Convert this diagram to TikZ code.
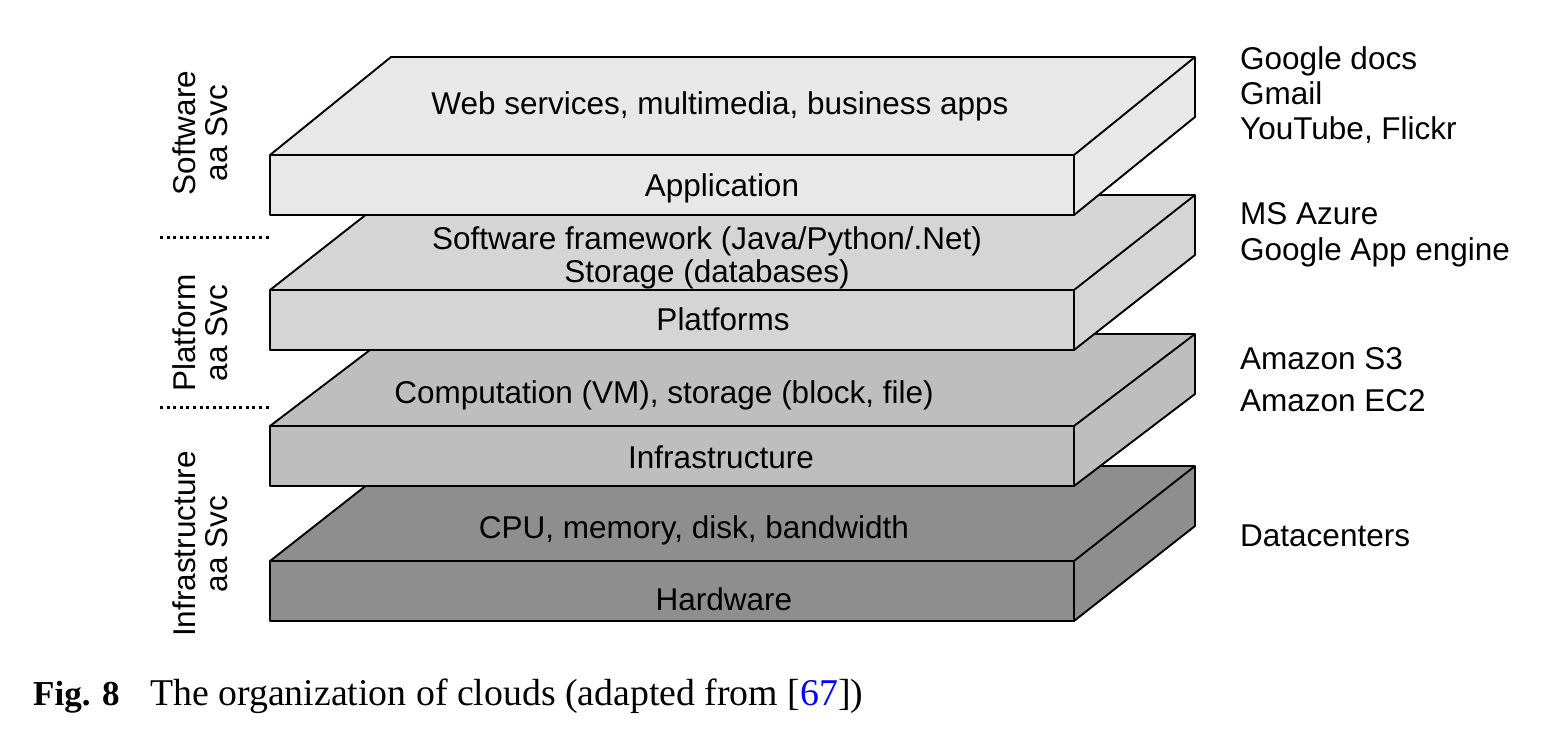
\documentclass[tikz,border=0pt]{standalone}
\usepackage{fontspec}
\setmainfont{Liberation Sans}
\newfontfamily\capfont{Liberation Serif}
\begin{document}
\begin{tikzpicture}[x=1pt,y=-1pt,
  slabline/.style={draw=black,line width=1.9pt,line join=round},
  lbl/.style={font=\fontsize{31.5}{36}\selectfont,inner sep=0pt,anchor=base},
  rlbl/.style={font=\fontsize{31.5}{36}\selectfont,inner sep=0pt,anchor=base west},
  side/.style={font=\fontsize{31.5}{32}\selectfont,inner sep=0pt,rotate=90,align=center},
  sep/.style={line width=3pt,dash pattern=on 3pt off 3.6pt}]
\useasboundingbox (0,0) rectangle (1564,738);
\definecolor{cA}{HTML}{E8E8E8}
\definecolor{cB}{HTML}{D5D5D5}
\definecolor{cC}{HTML}{BEBEBE}
\definecolor{cD}{HTML}{8E8E8E}
\definecolor{reflink}{HTML}{0000FF}
% slabs, bottom to top
\foreach \y/\d/\c in {561/95/cD,426/92/cC,290/95/cB,155/98/cA}{
  \fill[\c] (270,\y) -- (391,\y-\d) -- (1195,\y-\d) -- (1195,\y+60-\d) -- (1074,\y+60) -- (270,\y+60) -- cycle;
  \draw[slabline] (270,\y) -- (391,\y-\d) -- (1195,\y-\d) -- (1195,\y+60-\d) -- (1074,\y+60) -- (270,\y+60) -- cycle;
  \draw[slabline] (270,\y) -- (1074,\y) -- (1195,\y-\d);
  \draw[slabline] (1074,\y) -- (1074,\y+60);
}
% slab texts
\node[lbl] (web) at (720,115) {Web services, multimedia, business apps};
\node[lbl] (app) at (722,197) {Application};
\node[lbl] (fw) at (707,250) {Software framework (Java/Python/.Net)};
\node[lbl] (db) at (707,283) {Storage (databases)};
\node[lbl] (plat) at (723,330) {Platforms};
\node[lbl] (comp) at (664,403) {Computation (VM), storage (block, file)};
\node[lbl] (infra) at (721,468) {Infrastructure};
\node[lbl] (cpu) at (694,538) {CPU, memory, disk, bandwidth};
\node[lbl] (hw) at (724,610) {Hardware};
% right labels
\node[rlbl] (gd) at (1240,70) {Google docs};
\node[rlbl] (gm) at (1240,105) {Gmail};
\node[rlbl] (yt) at (1240,140) {YouTube, Flickr};
\node[rlbl] (az) at (1240,225) {MS Azure};
\node[rlbl] (gae) at (1240,261) {Google App engine};
\node[rlbl] (s3) at (1240,369) {Amazon S3};
\node[rlbl] (ec2) at (1240,411) {Amazon EC2};
\node[rlbl] (dc) at (1240,546) {Datacenters};
% left labels
\node[side] (saas) at (200,133) {Software\\aa Svc};
\node[side] (paas) at (200,333) {Platform\\aa Svc};
\node[side] (iaas) at (200,544) {Infrastructure\\aa Svc};
\coordinate (s1a) at (160,238); \coordinate (s1b) at (270,238);
\coordinate (s2a) at (160,407); \coordinate (s2b) at (270,407);
\draw[sep] (s1a) -- (s1b);
\draw[sep] (s2a) -- (s2b);
% caption
\node[inner sep=0pt,anchor=base west,font=\capfont\bfseries\fontsize{35}{40}\selectfont] (fig) at (33,705) {Fig. 8};
\node[inner sep=0pt,anchor=base west,font=\capfont\fontsize{37.8}{42}\selectfont] (cap) at (150,705)
  {The organization of clouds (adapted from [\textcolor{reflink}{67}])};
\end{tikzpicture}
\end{document}
